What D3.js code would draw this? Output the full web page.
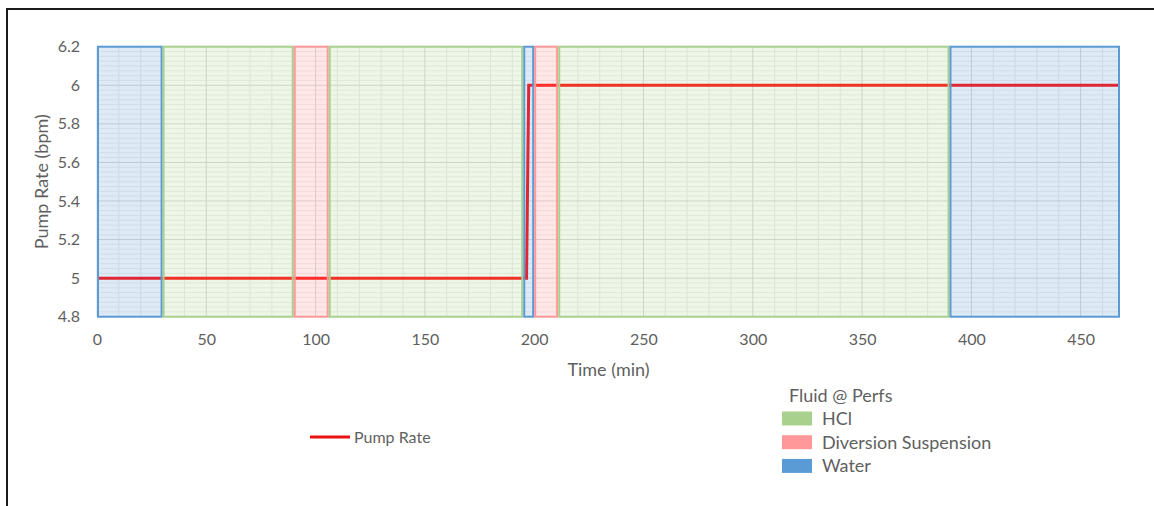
<!DOCTYPE html>
<html>
<head>
<meta charset="utf-8">
<script src="https://cdn.jsdelivr.net/npm/d3@7"></script>
<style>
  html, body { margin: 0; padding: 0; background: #fff; }
  svg { display: block; font-family: Lato, "Open Sans", sans-serif; }
</style>
</head>
<body>
<svg id="chart" width="1154" height="506"></svg>
<script>
// Pump rate schedule (time in minutes, rate in bpm)
const pumpTime = [0, 196.5, 197.5, 468];
const pumpRate = [5, 5, 6, 6];

// Fluid at perforations, by time interval
const fluidStart = [0, 30, 90, 106, 195, 200, 211, 390];
const fluidEnd   = [30, 90, 106, 195, 200, 211, 390, 468];
const fluidType  = ["Water", "HCl", "Diversion Suspension", "HCl", "Water", "Diversion Suspension", "HCl", "Water"];

const fluidNames = ["HCl", "Diversion Suspension", "Water"];
const fluidColors = ["#a9d18e", "#ff9999", "#5b9bd5"];

const xTicks = [0, 50, 100, 150, 200, 250, 300, 350, 400, 450];
const yTicks = [4.8, 5, 5.2, 5.4, 5.6, 5.8, 6, 6.2];

const svg = d3.select("#chart");
const W = 1154, H = 506;
const xMax = 468;
const margin = { left: 97, right: 34, top: 46.7, bottom: 189.3 };

const x = d3.scaleLinear().domain([0, xMax]).range([margin.left, W - margin.right]);
const y = d3.scaleLinear().domain([4.8, 6.2]).range([H - margin.bottom, margin.top]);
const color = d3.scaleOrdinal().domain(fluidNames).range(fluidColors);

const textColor = "#5f5f5f";

// Outer frame (top and left edges)
svg.append("path")
  .attr("d", `M7,${H} L7,9 L${W},9`)
  .attr("fill", "none").attr("stroke", "#1a1a1a").attr("stroke-width", 2);

const plot = svg.append("g");

// Minor gridlines
const minorX = d3.range(0, xMax + 1, 10).filter(v => v % 50 !== 0);
const minorY = d3.range(0, 57).map(i => 4.8 + i * 0.025).filter(v => Math.abs(Math.round(v * 5) - v * 5) > 1e-6);
plot.append("g").selectAll("line").data(minorX).join("line")
  .attr("x1", d => x(d)).attr("x2", d => x(d))
  .attr("y1", y(4.8)).attr("y2", y(6.2))
  .attr("stroke", "#e9e9e9").attr("stroke-width", 1);
plot.append("g").selectAll("line").data(minorY).join("line")
  .attr("x1", x(0)).attr("x2", x(xMax))
  .attr("y1", d => y(d)).attr("y2", d => y(d))
  .attr("stroke", "#eeeeee").attr("stroke-width", 1);

// Major gridlines
plot.append("g").selectAll("line").data(xTicks).join("line")
  .attr("x1", d => x(d)).attr("x2", d => x(d))
  .attr("y1", y(4.8)).attr("y2", y(6.2))
  .attr("stroke", "#d6d6d6").attr("stroke-width", 1);
plot.append("g").selectAll("line").data(yTicks).join("line")
  .attr("x1", x(0)).attr("x2", x(xMax))
  .attr("y1", d => y(d)).attr("y2", d => y(d))
  .attr("stroke", "#d6d6d6").attr("stroke-width", 1);

// Pump rate line
const pumpData = pumpTime.map((t, i) => ({ t, r: pumpRate[i] }));
const lineGen = d3.line().x(d => x(d.t)).y(d => y(d.r));
plot.append("path")
  .datum(pumpData)
  .attr("d", lineGen)
  .attr("fill", "none")
  .attr("stroke", "#ff0a0a")
  .attr("stroke-width", 3);

// Fluid bands, translucent so the grid and pump line show through
const bands = fluidStart.map((s, i) => ({ s, e: fluidEnd[i], type: fluidType[i] }));
const sw = 2;
plot.append("g").selectAll("rect").data(bands).join("rect")
  .attr("x", d => x(d.s) + sw / 2)
  .attr("y", y(6.2))
  .attr("width", d => Math.max(0, x(d.e) - x(d.s) - sw))
  .attr("height", y(4.8) - y(6.2))
  .attr("fill", d => color(d.type))
  .attr("fill-opacity", d => d.type === "Diversion Suspension" ? 0.24 : 0.2)
  .attr("stroke", d => color(d.type))
  .attr("stroke-width", sw);

// Axes labels
const xAxis = d3.axisBottom(x).tickValues(xTicks).tickSize(0).tickPadding(0).tickFormat(d3.format("d"));
const gx = svg.append("g").attr("transform", `translate(0,${y(4.8) + 17})`).call(xAxis);
gx.select(".domain").remove();
gx.selectAll("text").attr("fill", textColor).attr("font-size", 16).attr("font-family", "Lato").attr("dy", "0.71em");

const yAxis = d3.axisLeft(y).tickValues(yTicks).tickSize(0).tickPadding(0).tickFormat(d => d3.format("~g")(d));
const gy = svg.append("g").attr("transform", `translate(80,0)`).call(yAxis);
gy.select(".domain").remove();
gy.selectAll("text").attr("fill", textColor).attr("font-size", 16).attr("font-family", "Lato");

// Axis titles
svg.append("text")
  .attr("x", (x(0) + x(xMax)) / 2).attr("y", 376)
  .attr("text-anchor", "middle")
  .attr("fill", textColor).attr("font-size", 18)
  .text("Time (min)");

svg.append("text")
  .attr("transform", `translate(48,${(y(4.8) + y(6.2)) / 2}) rotate(-90)`)
  .attr("text-anchor", "middle")
  .attr("fill", textColor).attr("font-size", 18)
  .text("Pump Rate (bpm)");

// Line legend
const lineLegend = svg.append("g").attr("transform", "translate(310,437)");
lineLegend.append("line").attr("x1", 0).attr("x2", 40).attr("y1", 0).attr("y2", 0)
  .attr("stroke", "#ee1111").attr("stroke-width", 3);
lineLegend.append("text").attr("x", 44).attr("y", 0).attr("dy", "0.35em")
  .attr("fill", textColor).attr("font-size", 16).text("Pump Rate");

// Fluid legend
const fluidLegend = svg.append("g").attr("transform", "translate(782,396)");
fluidLegend.append("text").attr("x", 7).attr("y", 0).attr("dy", "0.35em")
  .attr("fill", textColor).attr("font-size", 18).text("Fluid @ Perfs");
const items = fluidLegend.selectAll("g.item").data(fluidNames).join("g")
  .attr("class", "item")
  .attr("transform", (d, i) => `translate(0,${22.5 + i * 23.7})`);
items.append("rect").attr("x", 0).attr("y", -7).attr("width", 30).attr("height", 14)
  .attr("fill", d => color(d));
items.append("text").attr("x", 40).attr("y", 0).attr("dy", "0.35em")
  .attr("fill", textColor).attr("font-size", 18).text(d => d);
</script>
</body>
</html>
